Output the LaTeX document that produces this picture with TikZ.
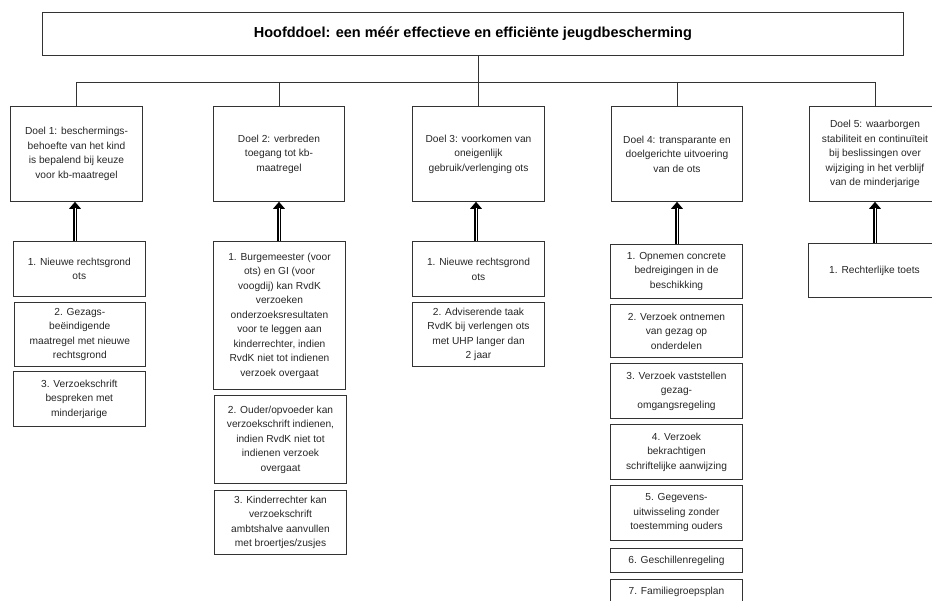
\documentclass[tikz,border=0pt]{standalone}
\usepackage{fontspec}
\setmainfont{Liberation Sans}
\usetikzlibrary{arrows.meta}
\begin{document}
\begin{tikzpicture}[
    x=1pt, y=-1pt,
    box/.style={draw=black!80, line width=0.8pt, align=center, inner sep=0pt,
                text=black!85, font=\fontsize{10.2}{14.5}\selectfont},
    goal/.style={box, anchor=north, minimum width=131.5pt, minimum height=95pt},
    item/.style={box, anchor=north, minimum width=131.5pt},
    lift/.style={draw=black, line width=4.2pt, -{Triangle[length=7pt, width=11.5pt]},
                 postaction={draw=white, line width=1pt, -, shorten >=6pt}}
  ]
  \useasboundingbox (0,0) rectangle (932,601);
  \clip (0,0) rectangle (932,601);

  \node[box, anchor=north west, minimum width=861pt, minimum height=43pt,
        text=black, font=\fontsize{14.5}{17}\selectfont\bfseries] (main) at (42,12)
    {Hoofddoel: een méér effectieve en efficiënte jeugdbescherming};

  \node[goal] (g1) at (76.5,106) {Doel 1: beschermings-\\behoefte van het kind\\is bepalend bij keuze\\voor kb-maatregel};
  \node[goal] (g2) at (279,106) {Doel 2: verbreden\\toegang tot kb-\\maatregel};
  \node[goal] (g3) at (478.5,106) {Doel 3: voorkomen van\\oneigenlijk\\gebruik/verlenging ots};
  \node[goal] (g4) at (677,106) {Doel 4: transparante en\\doelgerichte uitvoering\\van de ots};
  \node[goal] (g5) at (875,106) {Doel 5: waarborgen\\stabiliteit en continuïteit\\bij beslissingen over\\wijziging in het verblijf\\van de minderjarige};

  \coordinate (bar) at (0,82);
  \draw[black!80, line width=0.8pt] (main.south -| g3.north) -- (bar -| g3.north);
  \draw[black!80, line width=0.8pt] (bar -| g1.north) -- (bar -| g5.north);
  \foreach \g in {g1,g2,g3,g4,g5}
    \draw[black!80, line width=0.8pt] (bar -| \g.north) -- (\g.north);

  \node[item, minimum height=55pt] (s11) at (79.3,241) {1. Nieuwe rechtsgrond\\ots};
  \node[item, minimum height=64pt] (s12) at (79.8,302) {2. Gezags-\\beëindigende\\maatregel met nieuwe\\rechtsgrond};
  \node[item, minimum height=55pt] (s13) at (79.3,371) {3. Verzoekschrift\\bespreken met\\minderjarige};

  \node[item, minimum height=148pt] (s21) at (279.5,241) {1. Burgemeester (voor\\ots) en GI (voor\\voogdij) kan RvdK\\verzoeken\\onderzoeksresultaten\\voor te leggen aan\\kinderrechter, indien\\RvdK niet tot indienen\\verzoek overgaat};
  \node[item, minimum height=88pt] (s22) at (280.5,395) {2. Ouder/opvoeder kan\\verzoekschrift indienen,\\indien RvdK niet tot\\indienen verzoek\\overgaat};
  \node[item, minimum height=64pt] (s23) at (280.5,490) {3. Kinderrechter kan\\verzoekschrift\\ambtshalve aanvullen\\met broertjes/zusjes};

  \node[item, minimum height=55pt] (s31) at (478.5,241.5) {1. Nieuwe rechtsgrond\\ots};
  \node[item, minimum height=64pt] (s32) at (478.5,302) {2. Adviserende taak\\RvdK bij verlengen ots\\met UHP langer dan\\2 jaar};

  \node[item, minimum height=54pt] (s41) at (676.5,244) {1. Opnemen concrete\\bedreigingen in de\\beschikking};
  \node[item, minimum height=53pt] (s42) at (676.5,304) {2. Verzoek ontnemen\\van gezag op\\onderdelen};
  \node[item, minimum height=55pt] (s43) at (676.5,363) {3. Verzoek vaststellen\\gezag-\\omgangsregeling};
  \node[item, minimum height=55pt] (s44) at (676.5,424) {4. Verzoek\\bekrachtigen\\schriftelijke aanwijzing};
  \node[item, minimum height=55pt] (s45) at (676.5,485) {5. Gegevens-\\uitwisseling zonder\\toestemming ouders};
  \node[item, minimum height=24pt] (s46) at (676.5,548) {6. Geschillenregeling};
  \node[item, minimum height=24pt] (s47) at (676.5,579) {7. Familiegroepsplan};

  \node[item, minimum height=54pt] (s51) at (874.5,243) {1. Rechterlijke toets};

  \draw[lift] (75,0 |- s11.north) -- (75,0 |- g1.south);
  \draw[lift] (g2.south |- s21.north) -- (g2.south);
  \draw[lift] (476,0 |- s31.north) -- (476,0 |- g3.south);
  \draw[lift] (g4.south |- s41.north) -- (g4.south);
  \draw[lift] (g5.south |- s51.north) -- (g5.south);
\end{tikzpicture}
\end{document}
